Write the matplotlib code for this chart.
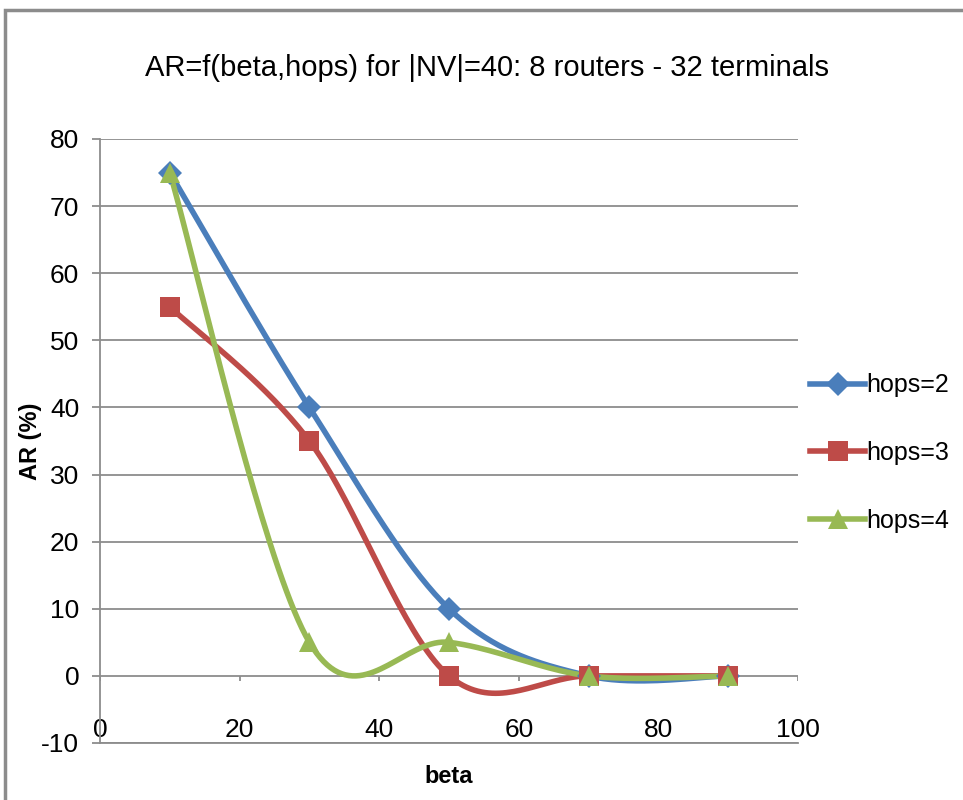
import numpy as np
import matplotlib
matplotlib.use("Agg")
import matplotlib.pyplot as plt
from matplotlib.patches import Rectangle

plt.rcParams['font.family'] = ['Liberation Sans', 'DejaVu Sans']
plt.rcParams['axes.unicode_minus'] = False

beta = [10, 30, 50, 70, 90]
hops2 = [75, 40, 10, 0, 0]
hops3 = [55, 35, 0, 0, 0]
hops4 = [75, 5, 5, 0, 0]
series_labels = ["hops=2", "hops=3", "hops=4"]
xticks = [0, 20, 40, 60, 80, 100]
yticks = [-10, 0, 10, 20, 30, 40, 50, 60, 70, 80]
title = "AR=f(beta,hops) for |NV|=40: 8 routers - 32 terminals"

colors = ["#4A7EBB", "#BE4B48", "#98B954"]
markers = ["D", "s", "^"]
msizes = [12, 14, 15]


def smooth(xs, ys, n=40):
    """Bezier smoothing with control points at P_i +/- (P_{i+1}-P_{i-1})/6."""
    pts = np.column_stack([xs, ys]).astype(float)
    out = []
    m = len(pts)
    for i in range(m - 1):
        p0 = pts[i - 1] if i > 0 else pts[i]
        p1 = pts[i]
        p2 = pts[i + 1]
        p3 = pts[i + 2] if i + 2 < m else pts[i + 1]
        c1 = p1 + (p2 - p0) / 6.0
        c2 = p2 - (p3 - p1) / 6.0
        t = np.linspace(0, 1, n)[:, None]
        seg = ((1 - t) ** 3) * p1 + 3 * ((1 - t) ** 2) * t * c1 + 3 * (1 - t) * t ** 2 * c2 + t ** 3 * p2
        out.append(seg if i == 0 else seg[1:])
    seg = np.vstack(out)
    return seg[:, 0], seg[:, 1]


fig = plt.figure(figsize=(9.63, 8.0), dpi=100)
# chart frame
fig.patches.append(Rectangle((5 / 963, -0.05), 1.2, 1 - 10 / 800 + 0.05,
                             transform=fig.transFigure, fill=False,
                             edgecolor="#8c8c8c", linewidth=2.5))

ax = fig.add_axes([100 / 963, 1 - 743 / 800, 698 / 963, (743 - 139) / 800])
ax.set_xlim(0, 100)
ax.set_ylim(-10, 80)

ax.set_yticks(yticks)
ax.yaxis.grid(True, color="#8c8c8c", linewidth=1.3)
ax.set_axisbelow(True)
for s in ["top", "right"]:
    ax.spines[s].set_visible(False)
for s in ["left", "bottom"]:
    ax.spines[s].set_color("#8c8c8c")
    ax.spines[s].set_linewidth(1.3)
ax.tick_params(axis="y", length=6, width=1.3, color="#8c8c8c", pad=9,
               labelsize=19)
ax.set_xticks(xticks)
ax.tick_params(axis="x", length=0, pad=-1, labelsize=19)
for lab in ax.get_xticklabels():
    lab.set_verticalalignment("bottom")

# category axis crossing at zero with downward tick marks
ax.vlines(xticks, -0.8, 0, color="#8c8c8c", linewidth=1.3, zorder=1)

for ys, c, mk, ms, lab in zip([hops2, hops3, hops4], colors, markers, msizes, series_labels):
    sx, sy = smooth(beta, ys)
    ax.plot(sx, sy, color=c, linewidth=4, solid_capstyle="round", zorder=3)
    ax.plot(beta, ys, linestyle="none", marker=mk, markersize=ms, color=c,
            markeredgewidth=0, zorder=4)
    ax.plot([], [], color=c, linewidth=4, marker=mk, markersize=ms,
            markeredgewidth=0, label=lab)

ax.set_xlabel("beta", fontsize=17, fontweight="bold")
ax.xaxis.set_label_coords(0.5, -0.036)
ax.set_ylabel("AR (%)", fontsize=17, fontweight="bold")
ax.yaxis.set_label_coords(-0.083, 0.5)

fig.text(487 / 963, 1 - 68 / 800, title, ha="center", va="center", fontsize=21)

leg = fig.legend(loc="center left", bbox_to_anchor=(800 / 963, 1 - 453 / 800),
                 frameon=False, fontsize=18, handlelength=2.2,
                 labelspacing=1.75, handletextpad=0.05, borderaxespad=0)

fig.savefig("out.png", dpi=100)
